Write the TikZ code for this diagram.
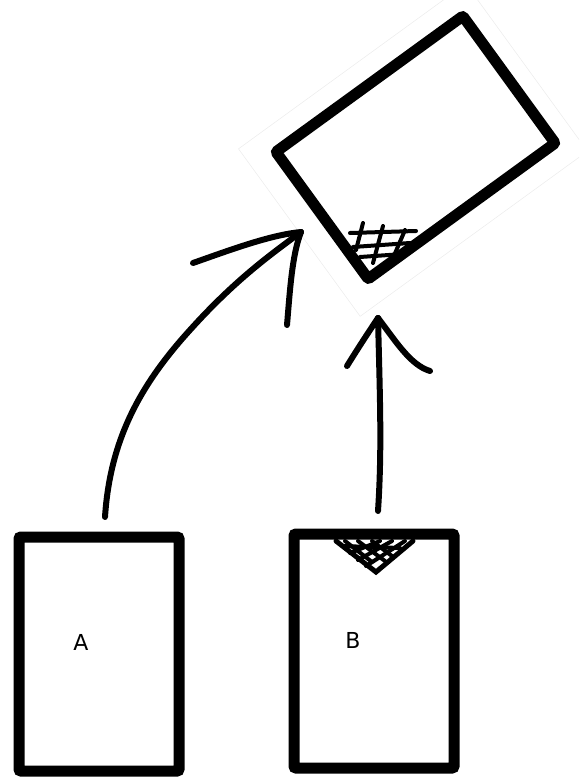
\documentclass[tikz,border=0pt]{standalone}
\usepackage{fontspec}
\setmainfont{DejaVu Sans}
\begin{document}
\begin{tikzpicture}[x=1pt,y=-1pt,
  box/.style={draw=black,line width=11pt,rounded corners=2pt,inner sep=0pt,fill=white},
  stroke/.style={line width=6pt,line cap=round,line join=round},
  hatch/.style={line width=4pt,line cap=round},
  faint/.style={draw=black!8,line width=0.5pt,inner sep=0pt},
  lbl/.style={font=\fontsize{22}{26}\selectfont}]
\useasboundingbox (0,0) rectangle (579,778);
\begin{scope}
\clip (0,0) rectangle (579,778);
\node[faint,rotate=36,minimum width=281pt,minimum height=207pt] (frame) at (413,150) {};
\end{scope}
\node[box,rotate=36,minimum width=231pt,minimum height=157pt] (T) at (415.5,147.5) {};
\node[box,minimum width=160pt,minimum height=234pt] (A) at (99,654) {};
\node[box,minimum width=160pt,minimum height=234pt] (B) at (374,651) {};
\node[lbl] (la) at (81,642) {A};
\node[lbl] (lb) at (353,640) {B};
% hatch in rotated box
\draw[hatch] (350,233) -- (416,231);
\draw[hatch] (353,247) -- (410,243);
\draw[hatch] (360,257) -- (403,254);
\draw[hatch] (363,223) -- (356,250);
\draw[hatch] (383,226) -- (373,263);
\draw[hatch] (405,230) -- (393,258);
% hatch in B
\draw[hatch,line width=5pt] (336,541) -- (376,572) -- (413,541);
\draw[hatch] (345,541) -- (372,562);
\draw[hatch] (358,541) -- (385,561);
\draw[hatch] (372,541) -- (392,556);
\draw[hatch] (405,541) -- (366,566);
\draw[hatch] (392,541) -- (358,560);
\draw[hatch] (380,541) -- (350,553);
\draw[hatch] (342,546) -- (400,548);
% left arrow
\coordinate (a0) at (105,517);
\coordinate (a1) at (301,232);
\coordinate (ab1) at (193,263);
\coordinate (ab2) at (287,325);
\draw[stroke] (a0) .. controls (110,440) and (140,385) .. (190,330)
  .. controls (235,280) and (270,255) .. (a1);
\draw[stroke] (ab1) .. controls (230,250) and (270,235) .. (a1);
\draw[stroke] (ab2) .. controls (290,290) and (292,255) .. (a1);
% right arrow
\coordinate (b0) at (378,511);
\coordinate (b1) at (378,318);
\coordinate (bb1) at (347,366);
\coordinate (bb2) at (430,371);
\draw[stroke] (b0) .. controls (382,450) and (380,400) .. (b1);
\draw[stroke] (bb1) .. controls (360,345) and (370,330) .. (b1);
\draw[stroke] (bb2) .. controls (410,365) and (395,340) .. (b1);
\end{tikzpicture}
\end{document}
